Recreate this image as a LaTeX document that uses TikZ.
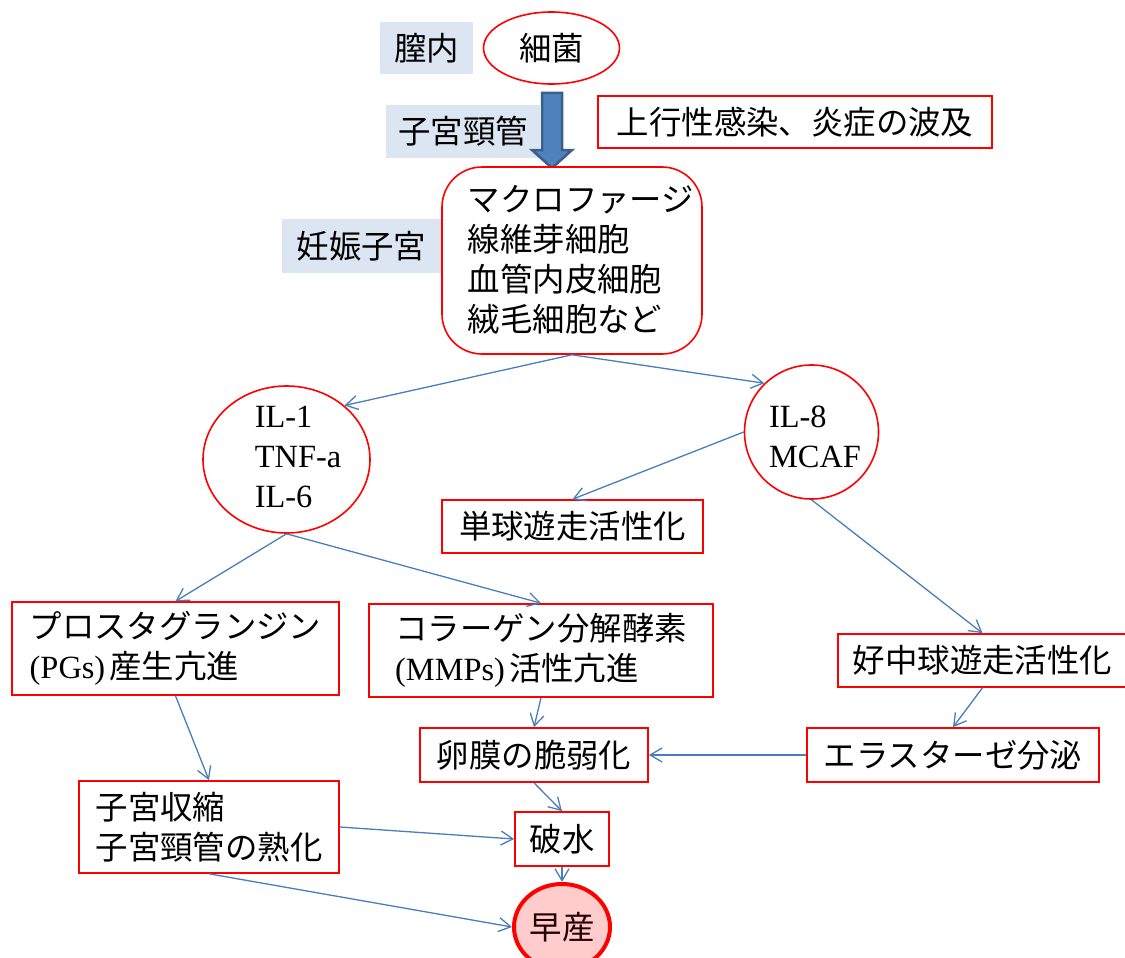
\documentclass[tikz,border=0pt]{standalone}
\usepackage{fontspec}
\setmainfont{Liberation Serif}
\newfontfamily\cjk{Noto Sans CJK JP}
\usetikzlibrary{arrows.meta,shapes.geometric}
\definecolor{boxred}{HTML}{FF0000}
\definecolor{connblue}{HTML}{4A7EBB}
\definecolor{lblfill}{HTML}{DCE6F2}
\definecolor{arrfill}{HTML}{4F81BD}
\definecolor{arrline}{HTML}{3A5F8B}
\definecolor{pinkfill}{HTML}{FFCCCC}
\tikzset{
  every node/.style={font=\fontsize{32.4}{40}\selectfont, inner sep=0pt},
  rbox/.style={draw=boxred, line width=1.6pt, fill=white, rectangle, align=left},
  lblbox/.style={fill=lblfill, rectangle, font=\fontsize{32.4}{40}\selectfont\cjk},
  redell/.style={draw=boxred, line width=1.6pt, fill=white, ellipse},
  conn/.style={draw=connblue, line width=1.3pt, -{Straight Barb[length=12pt,width=14pt,line width=1.3pt]}},
  jp/.style={font=\fontsize{32.4}{40}\selectfont\cjk}
}
\begin{document}
\begin{tikzpicture}[x=1pt,y=-1pt]
\useasboundingbox (0,0) rectangle (1125,958);
% labels
\node[lblbox, minimum width=93pt, minimum height=52pt] (chitsu) at (426.5,48) {膣内};
\node[redell, minimum width=136pt, minimum height=72pt, jp] (saikin) at (551.5,48) {細菌};
\node[lblbox, minimum width=154pt, minimum height=53pt] (keikan) at (463,131.5) {子宮頸管};
% big arrow
\draw[fill=arrfill, draw=arrline, line width=2.5pt, line join=miter]
  (542,93) -- (562,93) -- (562,150) -- (572,150) -- (552,168) -- (532,150) -- (542,150) -- cycle;
\node[rbox, jp, minimum width=394pt, minimum height=52pt] (joko) at (795,122) {上行性感染、炎症の波及};
\node[lblbox, minimum width=159pt, minimum height=54pt] (ninshin) at (361.5,246) {妊娠子宮};
\node[rbox, jp, rounded corners=40pt, minimum width=260pt, minimum height=187pt] (rb) at (572,260.5)
  {\hspace*{18pt}マクロファージ\\\hspace*{18pt}線維芽細胞\\\hspace*{18pt}血管内皮細胞\\\hspace*{18pt}絨毛細胞など};
% cytokines
\node[redell, minimum width=167pt, minimum height=147pt] (il) at (286.5,459.5) {};
\node[align=left] (iltxt) at (298,457) {IL-1\\TNF-a\\IL-6};
\node[redell, circle, minimum size=134pt] (il8) at (811.5,432) {};
\node[align=left] (il8txt) at (815,437) {IL-8\\MCAF};
\node[rbox, jp, minimum width=261pt, minimum height=53pt] (tan) at (572.5,526.5) {単球遊走活性化};
\node[rbox, minimum width=327pt, minimum height=93pt] (pg) at (175.5,648.5)
  {{\cjk プロスタグランジン}\\(PGs)\hspace{4pt}{\cjk 産生亢進}};
\node[rbox, minimum width=344pt, minimum height=93pt] (mmp) at (541,650.5)
  {{\cjk コラーゲン分解酵素}\\(MMPs)\hspace{4pt}{\cjk 活性亢進}};
\node[rbox, jp, minimum width=289pt, minimum height=53pt] (kochu) at (982.5,660.5) {好中球遊走活性化};
\node[rbox, jp, minimum width=292pt, minimum height=54pt] (ela) at (953,755) {エラスターゼ分泌};
\node[rbox, jp, minimum width=228pt, minimum height=54pt] (ran) at (534,755) {卵膜の脆弱化};
\node[rbox, jp, minimum width=260pt, minimum height=92pt] (shik) at (209,827) {子宮収縮\\子宮頸管の熟化};
\node[rbox, jp, minimum width=94pt, minimum height=54pt] (hasui) at (562,839) {破水};
\node[draw=boxred, line width=4pt, fill=pinkfill, ellipse, jp, text=black!85!red, minimum width=96pt, minimum height=86pt] (souzan) at (562,927) {早産};
% connectors
\draw[conn] (rb.south) -- (il.43);
\draw[conn] (rb.south) -- (il8.134);
\draw[conn] (il8.west) -- (tan.north);
\draw[conn] (il8.south) -- (kochu.north);
\draw[conn] (il.south) -- (pg.north);
\draw[conn] (il.south) -- (mmp.north);
\draw[conn] (pg.south) -- (shik.north);
\draw[conn] (mmp.south) -- (ran.north);
\draw[conn] (kochu.south) -- (ela.north);
\draw[conn] (ela.west) -- (ran.east);
\draw[conn] (ran.south) -- (hasui.north);
\draw[conn] (shik.east) -- (hasui.west);
\draw[conn] (shik.south) -- (souzan.west);
\draw[conn] (hasui.south) -- (souzan.north);
\end{tikzpicture}
\end{document}
